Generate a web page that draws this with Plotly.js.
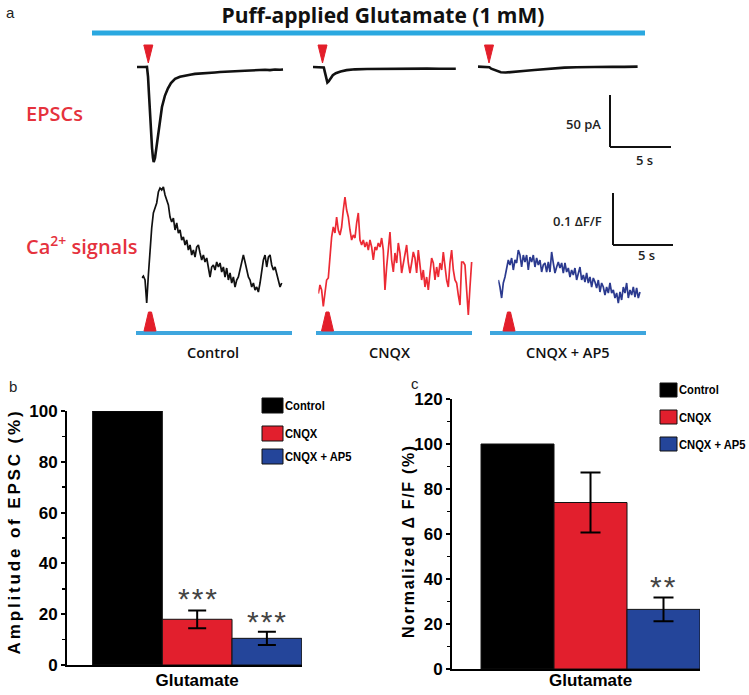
<!DOCTYPE html>
<html><head><meta charset="utf-8">
<script src="https://cdn.plot.ly/plotly-3.0.1.min.js"></script>
<style>html,body{margin:0;padding:0;background:#fff}#chart{width:749px;height:695px}</style>
</head><body><div id="chart"></div>
<script>
// ---------------- DATA ----------------
const groups = ['Control', 'CNQX', 'CNQX + AP5'];
const barCategory = ['Glutamate'];

// EPSC traces (time in s, current in pA)
const epscControlT = [0,0.33,0.67,0.83,0.92,1.0,1.08,1.17,1.25,1.33,1.39,1.5,1.58,1.75,1.92,2.08,2.33,2.58,2.83,3.17,3.58,4.0,4.42,4.83,5.25,5.67,6.08,6.5,6.92,7.33,7.75,8.17,8.58,9.0,9.42,9.83,10.25,10.67,11.08,11.5,11.92,12.17];
const epscControlV = [1.5,1.8,1.4,1.5,-8,-25,-45,-62,-76,-86,-90,-86,-79,-63,-48,-37,-26,-19,-14,-10,-8,-6.8,-6,-5.2,-5,-4.6,-4,-3.8,-3.4,-3,-3.2,-2.6,-2.4,-2.2,-1.8,-2,-1.4,-1.2,-1.6,-1,-1.2,-1];
const epscCnqxT = [0,0.4,0.8,0.9,1.0,1.1,1.2,1.3,1.45,1.65,1.9,2.3,2.8,3.5,4.5,5.5,6.5,7.5,8.5,9.5,10.5,11.5,11.9];
const epscCnqxV = [1.5,1.6,1.4,1.0,-4,-10,-13.5,-12.5,-9.5,-6.5,-4.5,-2.8,-1.6,-0.8,-0.5,-0.3,-0.4,-0.2,-0.3,-0.1,-0.2,-0.1,-0.2];
const epscAp5T = [0,0.4,0.8,0.95,1.1,1.3,1.6,1.9,2.3,2.8,3.3,4.0,4.7,5.5,6.3,7.2,8.2,9.2,10.2,11.2,12.2,13.3];
const epscAp5V = [1.8,1.6,1.8,1.2,-0.2,-1.0,-2.5,-3.6,-3.9,-3.6,-2.9,-2.2,-1.4,-0.6,0.1,0.8,1.2,1.5,1.4,1.7,1.6,1.8];

// Ca2+ traces (ΔF/F), sampled every caDt seconds
const caDt = 0.1389;
const caControl = [0.044,0.048,0.040,-0.006,0.050,0.106,0.144,0.174,0.186,0.194,0.216,0.224,0.220,0.226,0.210,0.200,0.190,0.166,0.156,0.164,0.140,0.154,0.134,0.140,0.120,0.126,0.110,0.120,0.100,0.110,0.090,0.100,0.086,0.106,0.110,0.094,0.080,0.090,0.076,0.084,0.060,0.046,0.066,0.070,0.060,0.076,0.066,0.074,0.056,0.066,0.046,0.064,0.040,0.054,0.034,0.046,0.026,0.040,0.046,0.060,0.070,0.090,0.076,0.060,0.046,0.040,0.026,0.034,0.020,0.026,0.016,0.034,0.054,0.080,0.090,0.066,0.086,0.090,0.070,0.060,0.066,0.054,0.040,0.026,0.034];
const caCnqx = [0.013,0.030,0.020,-0.013,0.014,0.040,0.044,0.094,0.126,0.146,0.134,0.166,0.140,0.130,0.146,0.180,0.206,0.180,0.166,0.140,0.120,0.130,0.124,0.154,0.174,0.120,0.110,0.120,0.106,0.116,0.100,0.120,0.106,0.080,0.106,0.100,0.114,0.106,0.124,0.100,0.020,0.066,0.106,0.136,0.080,0.056,0.094,0.074,0.114,0.094,0.054,0.074,0.086,0.110,0.074,0.054,0.074,0.096,0.084,0.054,0.100,0.074,0.040,0.060,0.026,0.046,0.020,0.054,0.084,0.074,0.040,0.066,0.046,0.074,0.060,0.096,0.066,0.040,0.026,0.074,0.100,0.060,0.040,0.034,0.010,-0.010,0.076,0.076,0.070,0.014,-0.030,0.026,0.076];
const caAp5 = [0.040,0.026,0.004,0.034,0.046,0.066,0.080,0.070,0.084,0.060,0.080,0.074,0.100,0.090,0.066,0.090,0.076,0.090,0.060,0.086,0.076,0.090,0.066,0.084,0.070,0.080,0.056,0.070,0.074,0.056,0.076,0.056,0.096,0.074,0.054,0.066,0.076,0.064,0.074,0.054,0.074,0.056,0.064,0.046,0.060,0.050,0.064,0.040,0.056,0.066,0.040,0.050,0.036,0.054,0.034,0.046,0.026,0.044,0.036,0.024,0.040,0.016,0.034,0.026,0.010,0.026,0.014,0.034,0.014,0.020,0.004,0.014,-0.006,0.016,0.000,0.026,0.014,0.034,0.004,0.020,0.010,0.026,0.006,0.024,0.004,0.016];

// Bar data
const epscAmplitude = [100, 18, 10.5];
const epscSem = [0, 3.5, 2.6];
const caNormalized = [100, 74, 26.5];
const caSem = [0, 13.3, 5.3];
const epscStars = ['', '***', '***'];
const caStars = ['', '', '**'];
const epscTitle = 'Amplitude of EPSC (%)';
const caTitle = 'Normalized Δ F/F (%)';

// ---------------- STYLE / LAYOUT ----------------
const W = 749, H = 695;
const px = x => x / W;
const py = y => 1 - y / H;
const barColors = ['#000000', '#e21f2d', '#24459a'];
const traceColors = ['#111111', '#ec2a34', '#2b3a8f'];
const pxPerSec = 12;
const spanSec = 14;
const axisFont = {family: 'Liberation Sans, Arial, sans-serif', size: 17, color: '#000', weight: 'bold'};
const legFont = {family: 'Liberation Sans, Arial, sans-serif', size: 13, color: '#000', weight: 'bold'};
const calFont = {family: 'Open Sans, Lato, sans-serif', size: 13, color: '#222', weight: 600};

const epscStart = [137, 313, 478];
const caStart = [141.7, 318.3, 498.3];

const traces = [];
const epscT = [epscControlT, epscCnqxT, epscAp5T];
const epscV = [epscControlV, epscCnqxV, epscAp5V];
const caV = [caControl, caCnqx, caAp5];
for (let i = 0; i < 3; i++) {
  traces.push({type: 'scatter', mode: 'lines', x: epscT[i], y: epscV[i], xaxis: 'x' + (i === 0 ? '' : i + 1), yaxis: 'y',
    line: {color: '#111', width: 2.6}, hoverinfo: 'skip', showlegend: false});
}
for (let i = 0; i < 3; i++) {
  traces.push({type: 'scatter', mode: 'lines', x0: 0, dx: caDt, y: caV[i], xaxis: 'x' + (i + 4), yaxis: 'y2',
    line: {color: traceColors[i], width: 1.7}, hoverinfo: 'skip', showlegend: false});
}
for (let i = 0; i < 3; i++) {
  const t = {type: 'bar', x: barCategory, y: [epscAmplitude[i]], name: groups[i], xaxis: 'x7', yaxis: 'y3',
    marker: {color: barColors[i], line: {color: '#111', width: 1}}, showlegend: false};
  if (epscSem[i] > 0) t.error_y = {type: 'data', array: [epscSem[i]], color: '#000', thickness: 2, width: 9};
  traces.push(t);
}
for (let i = 0; i < 3; i++) {
  const t = {type: 'bar', x: barCategory, y: [caNormalized[i]], name: groups[i], xaxis: 'x8', yaxis: 'y4',
    marker: {color: barColors[i], line: {color: '#111', width: 1}}, showlegend: false};
  if (caSem[i] > 0) t.error_y = {type: 'data', array: [caSem[i]], color: '#000', thickness: 2, width: 10};
  traces.push(t);
}

const hidden = {visible: false, fixedrange: true};
const layout = {
  width: W, height: H, margin: {l: 0, r: 0, t: 0, b: 0}, paper_bgcolor: '#fff', plot_bgcolor: 'rgba(0,0,0,0)',
  showlegend: false, barmode: 'group', bargap: 0.2, bargroupgap: 0,
  title: {text: 'Puff-applied Glutamate (1 mM)', x: px(383), xanchor: 'center', y: py(16), yanchor: 'middle',
    font: {family: 'Open Sans, Lato, sans-serif', size: 21, color: '#111', weight: 'bold'}},
  yaxis: Object.assign({domain: [py(172.5), py(58.1)], range: [-100, 10], anchor: 'x'}, hidden),
  yaxis2: Object.assign({domain: [py(320), py(180)], range: [-0.04, 0.24], anchor: 'x4'}, hidden),
  yaxis3: {domain: [py(665), py(411)], range: [0, 100], anchor: 'x7', showline: true, linewidth: 2, linecolor: '#000',
    ticks: 'outside', ticklen: 4, tickwidth: 2, tickcolor: '#000', dtick: 20, tick0: 0, showgrid: false, zeroline: false,
    minor: {dtick: 10, ticks: 'outside', ticklen: 3, tickwidth: 1.5, tickcolor: '#000', showgrid: false},
    tickfont: axisFont, fixedrange: true,
    title: {text: epscTitle, font: axisFont, standoff: 9}},
  xaxis7: {domain: [px(67), px(302)], anchor: 'y3', type: 'category', range: [-0.498, 0.401], showline: true, linewidth: 2,
    linecolor: '#000', ticks: '', showgrid: false, zeroline: false,
    tickfont: axisFont, fixedrange: true},
  yaxis4: {domain: [py(669), py(399)], range: [0, 120], anchor: 'x8', showline: true, linewidth: 2, linecolor: '#000',
    ticks: 'outside', ticklen: 4, tickwidth: 2, tickcolor: '#000', dtick: 20, tick0: 0, showgrid: false, zeroline: false,
    minor: {dtick: 10, ticks: 'outside', ticklen: 3, tickwidth: 1.5, tickcolor: '#000', showgrid: false},
    tickfont: axisFont, fixedrange: true,
    title: {text: caTitle, font: Object.assign({}, axisFont, {size: 16}), standoff: 5}},
  xaxis8: {domain: [px(452), px(700)], anchor: 'y4', type: 'category', range: [-0.506, 0.4], showline: true, linewidth: 2,
    linecolor: '#000', ticks: '', showgrid: false, zeroline: false,
    tickfont: axisFont, fixedrange: true},
  shapes: [], annotations: []
};
for (let i = 0; i < 3; i++) {
  layout['xaxis' + (i === 0 ? '' : i + 1)] = Object.assign({domain: [px(epscStart[i]), px(epscStart[i] + spanSec * pxPerSec)], range: [0, spanSec], anchor: 'y'}, hidden);
  layout['xaxis' + (i + 4)] = Object.assign({domain: [px(caStart[i]), px(caStart[i] + spanSec * pxPerSec)], range: [0, spanSec], anchor: 'y2'}, hidden);
}

const S = layout.shapes, A = layout.annotations;
const pline = (x0, y0, x1, y1, color, width) => S.push({type: 'line', xref: 'paper', yref: 'paper', x0: px(x0), y0: py(y0), x1: px(x1), y1: py(y1), line: {color: color, width: width}});
const ppath = (pts, color) => S.push({type: 'path', xref: 'paper', yref: 'paper', path: 'M' + pts.map(p => px(p[0]) + ',' + py(p[1])).join('L') + 'Z', fillcolor: color, line: {color: color, width: 1}});
const ann = (text, x, y, xa, font, extra) => { A.push(Object.assign({text: text, xref: 'paper', yref: 'paper', x: px(x), y: py(y), xanchor: xa, yanchor: 'middle', showarrow: false, font: font}, extra || {})); return A.length - 1; };

// blue application bars
pline(92, 33, 645, 33, '#2aa8e0', 5);
[[136, 292], [316, 472], [490, 646]].forEach(b => pline(b[0], 333, b[1], 333, '#3ea6de', 4));
// puff markers
[148.3, 322.5, 489].forEach(c => ppath([[c - 4.5, 45], [c + 4.5, 45], [c, 63]], '#e31e2a'));
[150, 327.5, 509].forEach(c => ppath([[c - 6, 331], [c + 6, 331], [c + 1.5, 312], [c - 1.5, 312]], '#e31e2a'));
// scale bars
pline(610, 95, 610, 147, '#111', 2); pline(610, 147, 671, 147, '#111', 2);
pline(613, 193, 613, 245, '#111', 2); pline(613, 245, 673, 245, '#111', 2);

// texts panel a
ann('a', 4, 12, 'left', {family: 'Liberation Sans, Arial, sans-serif', size: 15, color: '#222'});
ann('EPSCs', 24, 113, 'left', {family: 'Open Sans, sans-serif', size: 20, color: '#e5323d', weight: 600});
ann('Ca<sup>2+</sup> signals', 24, 245, 'left', {family: 'Open Sans, sans-serif', size: 20, color: '#e5323d', weight: 600});
ann('50 pA', 603, 124, 'right', calFont);
ann('5 s', 644, 160, 'center', calFont);
ann('0.1 ΔF/F', 604, 221, 'right', calFont);
ann('5 s', 646, 255, 'center', calFont);
[213, 389, 568].forEach((c, i) => ann(groups[i], c, 352, 'center', {family: 'Open Sans, sans-serif', size: 14.5, color: '#111', weight: 600}));

// panel labels
ann('b', 7, 386, 'left', {family: 'Liberation Sans, Arial, sans-serif', size: 15, color: '#222'});
ann('c', 409, 383, 'left', {family: 'Liberation Sans, Arial, sans-serif', size: 15, color: '#222'});

// legends (b and c)
const narrowIdx = [];
const legB = {x0: 262, x1: 283, ys: [[398, 413], [426, 441], [449, 464]]};
const legC = {x0: 660, x1: 677, ys: [[383, 397], [410, 424], [437, 451]]};
[legB, legC].forEach(L => {
  L.ys.forEach((yy, i) => {
    S.push({type: 'rect', xref: 'paper', yref: 'paper', x0: px(L.x0), x1: px(L.x1), y0: py(yy[1]), y1: py(yy[0]), fillcolor: barColors[i], line: {color: '#111', width: 1}});
    narrowIdx.push(ann(groups[i], L.x1, (yy[0] + yy[1]) / 2, 'left', legFont));
  });
});

// significance stars
const starFont = {family: 'Liberation Sans, Arial, sans-serif', size: 30, color: '#444'};
const starPosB = [[0, 0], [198, 598], [267, 621]];
const starPosC = [[0, 0], [0, 0], [663.5, 586]];
epscStars.forEach((s, i) => { if (s) ann(s, starPosB[i][0], starPosB[i][1], 'center', starFont); });
caStars.forEach((s, i) => { if (s) ann(s, starPosC[i][0], starPosC[i][1], 'center', starFont); });

// place a rotated axis title: stretch it to a target length and centre it on a target point
function fitVertical(groupSel, cx, cy, targetLen) {
  const g = document.querySelector(groupSel);
  if (!g) return;
  const t = g.querySelector('text');
  if (!t) return;
  t.setAttribute('letter-spacing', '0px');
  let r = t.getBoundingClientRect();
  const n = Math.max(1, t.textContent.length - 1);
  const ls = Math.max(0, (targetLen - r.height) / n);
  t.setAttribute('letter-spacing', ls.toFixed(2) + 'px');
  r = t.getBoundingClientRect();
  const host = document.getElementById('chart').getBoundingClientRect();
  const dx = cx - (r.left - host.left + r.width / 2);
  const dy = cy - (r.top - host.top + r.height / 2);
  const prev = g.getAttribute('transform') || '';
  g.setAttribute('transform', 'translate(' + dx.toFixed(1) + ',' + dy.toFixed(1) + ') ' + prev);
}

Plotly.newPlot('chart', traces, layout, {displayModeBar: false, staticPlot: true}).then(() => {
  fitVertical('.g-y3title', 15, 531.5, 243);
  fitVertical('.g-y4title', 408, 541, 192);
  document.querySelectorAll('g.x8tick text, g.x7tick text').forEach(t => {
    const y = parseFloat(t.getAttribute('y'));
    if (!isNaN(y)) t.setAttribute('y', (y - (t.closest('g.x8tick') ? 5 : 1)).toFixed(1));
  });
  document.querySelectorAll('.annotation').forEach(g => {
    const idx = +g.getAttribute('data-index');
    const t = g.querySelector('text.annotation-text');
    if (!t) return;
    if (/^\*+$/.test(t.textContent)) t.setAttribute('letter-spacing', '2px');
    if (narrowIdx.indexOf(idx) >= 0) {
      const w = t.getComputedTextLength();
      const k = 0.86;
      const shift = w * (1 - k) / 2;
      t.setAttribute('textLength', (w * k).toFixed(1));
      t.setAttribute('lengthAdjust', 'spacingAndGlyphs');
      t.setAttribute('transform', 'translate(' + (-shift).toFixed(1) + ',0)');
      g.querySelectorAll('rect').forEach(r => {
        const rw = parseFloat(r.getAttribute('width'));
        if (!isNaN(rw)) r.setAttribute('width', (rw - 2 * shift).toFixed(1));
      });
    }
  });
});
</script></body></html>
